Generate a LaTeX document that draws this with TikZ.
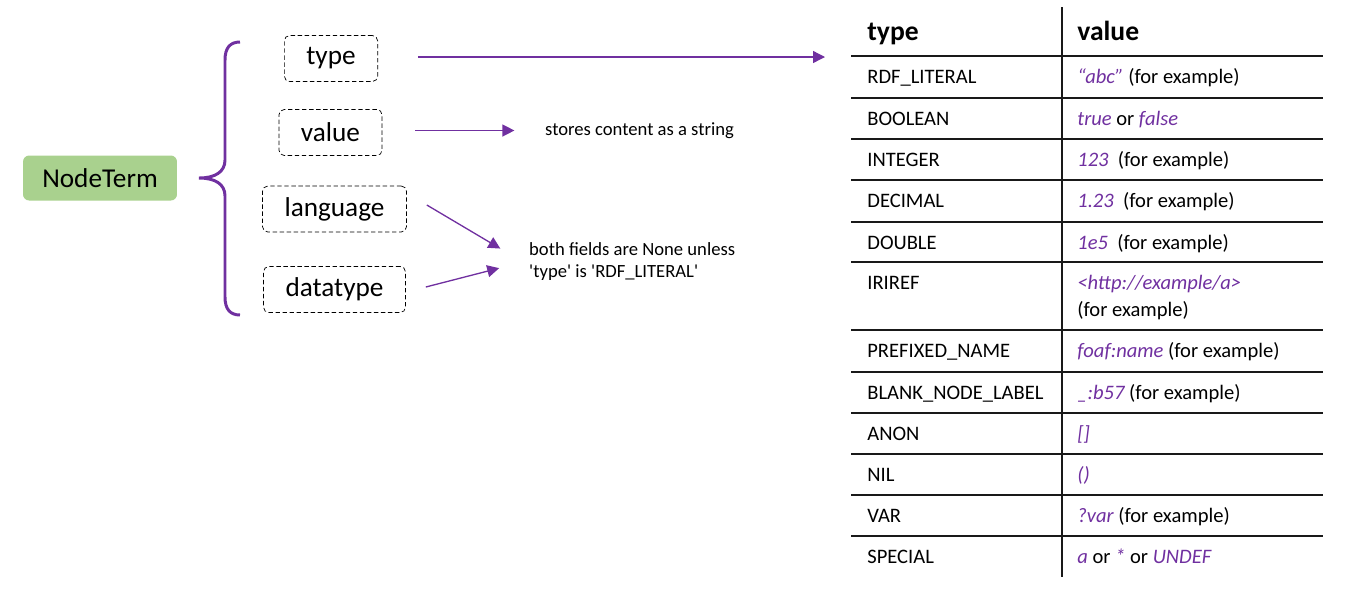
\documentclass[tikz,border=0pt]{standalone}
\usepackage{fontspec}
\setmainfont{Carlito}
\usetikzlibrary{arrows.meta}
\definecolor{plum}{HTML}{7030A0}
\definecolor{leaf}{HTML}{A9D18E}
\newcommand\ex[1]{\textcolor{plum}{\itshape #1}}

\begin{document}
\begin{tikzpicture}[x=0.02cm, y=-0.02cm,
  every node/.style={font=\fontsize{11.7pt}{15.3pt}\selectfont},
  field/.style={draw, dash pattern=on 2.5pt off 1.5pt, rounded corners=3pt, minimum height=0.92cm, inner xsep=0.44cm, font=\fontsize{15.5pt}{18pt}\selectfont},
  note/.style={anchor=west, align=left, font=\fontsize{10.6pt}{12.5pt}\selectfont},
  link/.style={draw=plum, line width=0.75pt, -{Triangle[length=6.8pt, width=6.8pt]}},
  rule/.style={line width=1.1pt, draw=black!90},
  cell/.style={anchor=base west, inner sep=0pt, align=left}]
  \useasboundingbox (0,0) rectangle (1371,606);

  \node[fill=leaf, rounded corners=3.5pt, minimum width=3.08cm, minimum height=0.9cm, font=\fontsize{15.5pt}{18pt}\selectfont] (term) at (100,178) {NodeTerm};

  % brace
  \draw[plum, line width=1.7pt] (240,42) .. controls (230,42) and (225,48) .. (225,60) -- (225,160)
    .. controls (225,172) and (215,178) .. (199,178) .. controls (215,178) and (225,184) .. (225,196)
    -- (225,297) .. controls (225,309) and (230,315) .. (240,315);

  \node[field] (typebox) at (331,58.5) {type};
  \node[field] (valuebox) at (330.5,132.5) {value};
  \node[field] (langbox) at (334.5,209) {language};
  \node[field] (dtypebox) at (334.5,289.5) {datatype};

  \node[note] (strnote) at (539,130.5) {stores content as a string};
  \node[note] (nonenote) at (523,262) {both fields are None unless\\\textquotesingle type\textquotesingle{} is \textquotesingle RDF\_LITERAL\textquotesingle};

  \coordinate (typetip) at (825,57);
  \draw[link, shorten <=22.7pt] (typebox.east |- typetip) -- (typetip);
  \draw[link, shorten >=14pt] (valuebox.east) ++(33,-2) -- (strnote.west);
  \draw[link, shorten >=15pt] (langbox.east) ++(20,-4) -- (nonenote.west);
  \draw[link, shorten >=14pt] (dtypebox.east) ++(20,-2.5) -- (nonenote.west);

  % table
  \draw[rule] (1062,7) -- (1062,577);
  \foreach \y in {56,98,139,180,222,262,330,372,413,454,495,536}
    \draw[rule] (851,\y) -- (1323,\y);

  \node[cell, font=\bfseries\fontsize{15.7pt}{18pt}\selectfont] (htype) at (867,40) {type};
  \node[cell, font=\bfseries\fontsize{15.7pt}{18pt}\selectfont] (hvalue) at (1077,40) {value};

  \foreach \y/\typ/\val [count=\i] in {
      83/RDF\_LITERAL/{\ex{“abc”} (for example)},
      125/BOOLEAN/{\ex{true} or \ex{false}},
      166/INTEGER/{\ex{123}\ \ (for example)},
      207/DECIMAL/{\ex{1.23}\ \ (for example)},
      249/DOUBLE/{\ex{1e5}\ \ (for example)},
      357/PREFIXED\_NAME/{\ex{foaf:name} (for example)},
      399/BLANK\_NODE\_LABEL/{\ex{\_:b57} (for example)},
      440/ANON/{\ex{[]}},
      481/NIL/{\ex{()}},
      522/VAR/{\ex{?var} (for example)},
      563/SPECIAL/{\ex{a} or \ex{*} or \ex{UNDEF}}} {
    \node[cell] (t\i) at (867,\y) {\typ};
    \node[cell] (v\i) at (1077,\y) {\val};
  }
  % two-line cell: base anchor sits on the last line
  \node[cell] (tiri) at (867,289) {IRIREF};
  \node[cell] (viri) at (1077,316) {\ex{<http://example/a>}\\(for example)};
\end{tikzpicture}
\end{document}
